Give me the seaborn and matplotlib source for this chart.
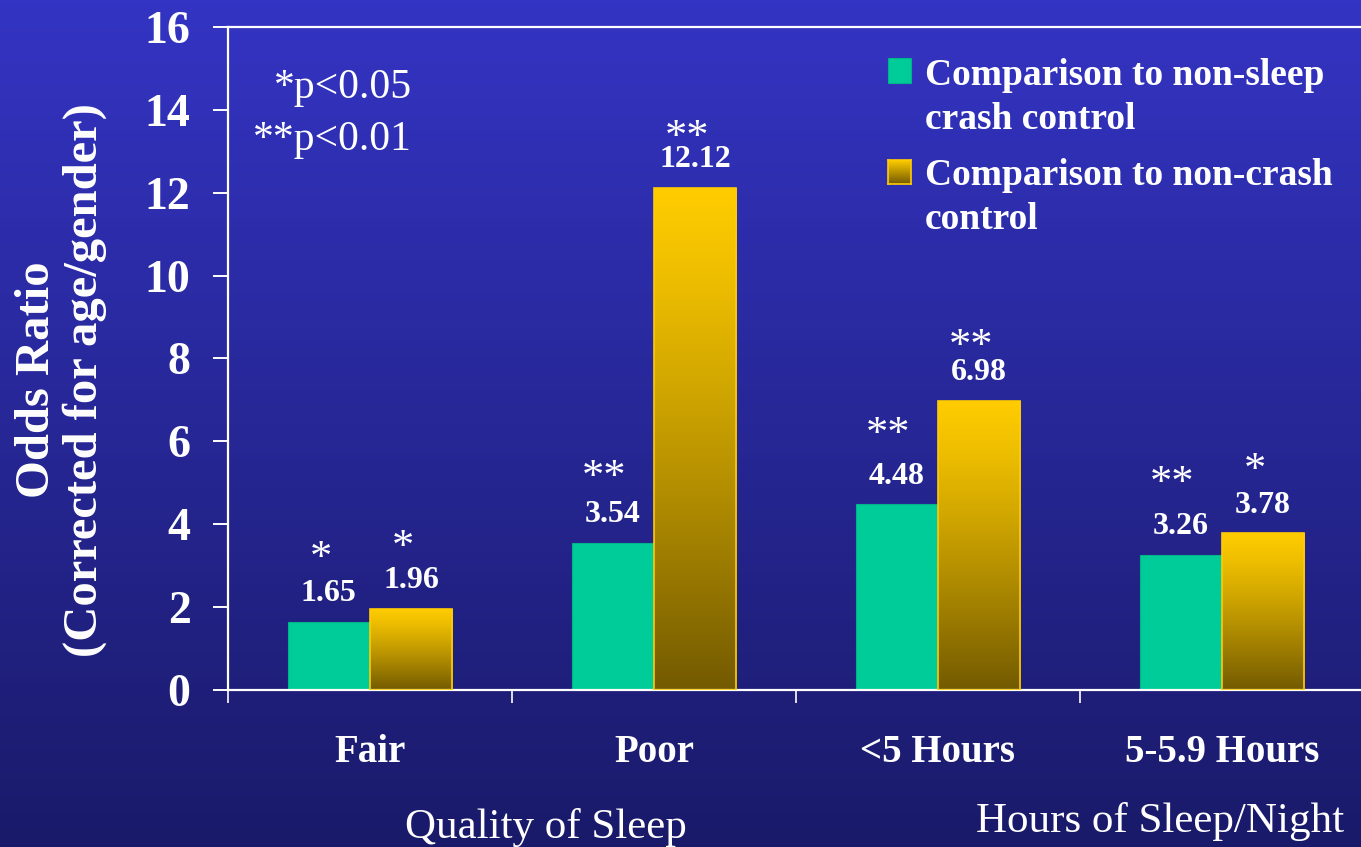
import numpy as np
import pandas as pd
import matplotlib
matplotlib.use("Agg")
import matplotlib.pyplot as plt
import seaborn as sns
from matplotlib.colors import to_rgb
from matplotlib.patches import Rectangle

# ---- data ----
categories = ["Fair", "Poor", "<5 Hours", "5-5.9 Hours"]
series_names = ["Comparison to non-sleep\ncrash control",
                "Comparison to non-crash\ncontrol"]
odds_vs_sleep_crash = [1.65, 3.54, 4.48, 3.26]
odds_vs_noncrash = [1.96, 12.12, 6.98, 3.78]
sig_vs_sleep_crash = ["*", "**", "**", "**"]
sig_vs_noncrash = ["*", "**", "**", "*"]
y_ticks = [0, 2, 4, 6, 8, 10, 12, 14, 16]
group_titles = ["Quality of Sleep", "Hours of Sleep/Night"]
p_notes = ["*p<0.05", "**p<0.01"]

# ---- style ----
GREEN = "#00CC99"
GOLD_TOP = "#FFCC00"
GOLD_BOTTOM = "#735A00"
BG_TOP = "#3434C4"
BG_BOTTOM = "#1A1A6A"
WHITE = "white"
# height (points) of significance stars above each bar top
star_lift = [[37, 39, 42, 43], [36, 28, 31, 37]]

sns.set_theme(style="white")
plt.rcParams["font.family"] = ["Liberation Serif", "DejaVu Serif"]

df = pd.DataFrame({
    "category": categories * 2,
    "odds": odds_vs_sleep_crash + odds_vs_noncrash,
    "series": [series_names[0]] * 4 + [series_names[1]] * 4,
})

W, H = 1361, 847
fig = plt.figure(figsize=(W / 100, H / 100), dpi=100)
fig.patch.set_facecolor(BG_BOTTOM)


def vgradient(top, bottom, n=256, gamma=1.0):
    t = np.linspace(0, 1, n) ** gamma
    c0, c1 = np.array(to_rgb(top)), np.array(to_rgb(bottom))
    return (c0[None, :] * (1 - t[:, None]) + c1[None, :] * t[:, None])[:, None, :]


# background
bg = fig.add_axes([0, 0, 1, 1], zorder=-10)
bg.imshow(vgradient(BG_TOP, BG_BOTTOM), aspect="auto", extent=[0, 1, 0, 1])
bg.set_axis_off()

ax = fig.add_axes([228 / W, 1 - 690 / H, 1136 / W, 663 / H])
ax.set_facecolor("none")

sns.barplot(data=df, x="category", y="odds", hue="series",
            palette=[GREEN, GOLD_TOP], width=0.58, saturation=1,
            order=categories, hue_order=series_names, legend=False, ax=ax)

green_bars, gold_bars = ax.containers[0], ax.containers[1]
for bar in green_bars:
    bar.set_edgecolor("#00B488")
    bar.set_linewidth(0.8)

# gold bars: vertical gradient clipped to each bar
grad = vgradient(GOLD_TOP, GOLD_BOTTOM, gamma=1.2)
for bar in gold_bars:
    x0, w, h = bar.get_x(), bar.get_width(), bar.get_height()
    bar.set_facecolor("none")
    bar.set_edgecolor(GOLD_TOP)
    bar.set_linewidth(1.2)
    bar.set_zorder(3)
    im = ax.imshow(grad, aspect="auto", extent=[x0, x0 + w, 0, h],
                   zorder=2, interpolation="bilinear")
    im.set_clip_path(bar)

ax.set_xlim(-0.5, 3.5)
ax.set_ylim(0, 16)

# value labels and significance stars
for k, (bars, vals, sigs) in enumerate([(green_bars, odds_vs_sleep_crash, sig_vs_sleep_crash),
                                        (gold_bars, odds_vs_noncrash, sig_vs_noncrash)]):
    for i, (bar, v, s) in enumerate(zip(bars, vals, sigs)):
        xc = bar.get_x() + bar.get_width() / 2
        ax.annotate(f"{v:.2f}", xy=(xc, v), xytext=(0, 15), textcoords="offset points",
                    ha="center", va="baseline", fontsize=23, fontweight="bold",
                    color=WHITE, zorder=5)
        ax.annotate(s, xy=(xc, v), xytext=(-6, star_lift[k][i]), textcoords="offset points",
                    ha="center", va="baseline", fontsize=32, color=WHITE, zorder=5)

# axes styling
for side in ["left", "bottom", "top", "right"]:
    ax.spines[side].set_color(WHITE)
    ax.spines[side].set_linewidth(1.6)
ax.set_yticks(y_ticks)
ax.set_yticklabels([str(t) for t in y_ticks], fontsize=33, fontweight="bold", color=WHITE)
ax.tick_params(axis="y", which="major", direction="out", length=11, width=1.4,
               color=WHITE, pad=16, left=True)
ax.set_xticks(range(len(categories)))
ax.set_xticklabels(categories, fontsize=28, fontweight="bold", color=WHITE)
ax.set_xticks(np.arange(-0.5, 3.0, 1.0), minor=True)
ax.tick_params(axis="x", which="major", length=0, pad=32)
ax.tick_params(axis="x", which="minor", direction="out", length=9.5, width=1.2,
               color=WHITE, bottom=True)
ax.set_xlabel("")
ax.set_ylabel("")
ax.grid(False)

# y axis title
fig.text(61 / W, 1 - 380 / H, "Odds Ratio\n(Corrected for age/gender)", rotation=90,
         ha="center", va="center", multialignment="center", fontsize=35,
         fontweight="bold", color=WHITE, linespacing=1.12)

# group titles under the category labels
fig.text(546 / W, 1 - 838 / H, group_titles[0], ha="center", va="baseline",
         fontsize=31, color=WHITE)
fig.text(1160 / W, 1 - 832 / H, group_titles[1], ha="center", va="baseline",
         fontsize=31, color=WHITE)

# significance key
fig.text(412 / W, 1 - 98 / H, p_notes[0], ha="right", va="baseline", fontsize=30, color=WHITE)
fig.text(412 / W, 1 - 150 / H, p_notes[1], ha="right", va="baseline", fontsize=30, color=WHITE)

# legend
fig.patches.append(Rectangle((888 / W, 1 - 83 / H), 23 / W, 25 / H, transform=fig.transFigure,
                             facecolor=GREEN, edgecolor="#00B488", linewidth=0.8))
sw = fig.add_axes([888 / W, 1 - 184 / H, 23 / W, 24 / H])
sw.imshow(vgradient(GOLD_TOP, GOLD_BOTTOM), aspect="auto", extent=[0, 1, 0, 1])
sw.set_xticks([])
sw.set_yticks([])
for sp in sw.spines.values():
    sp.set_color(GOLD_TOP)
    sp.set_linewidth(1.2)
fig.text(925 / W, 1 - 58 / H, series_names[0], ha="left", va="top", fontsize=27,
         fontweight="bold", color=WHITE, linespacing=1.35)
fig.text(925 / W, 1 - 158 / H, series_names[1], ha="left", va="top", fontsize=27,
         fontweight="bold", color=WHITE, linespacing=1.35)

fig.savefig("out.png", dpi=100, facecolor=fig.get_facecolor())
